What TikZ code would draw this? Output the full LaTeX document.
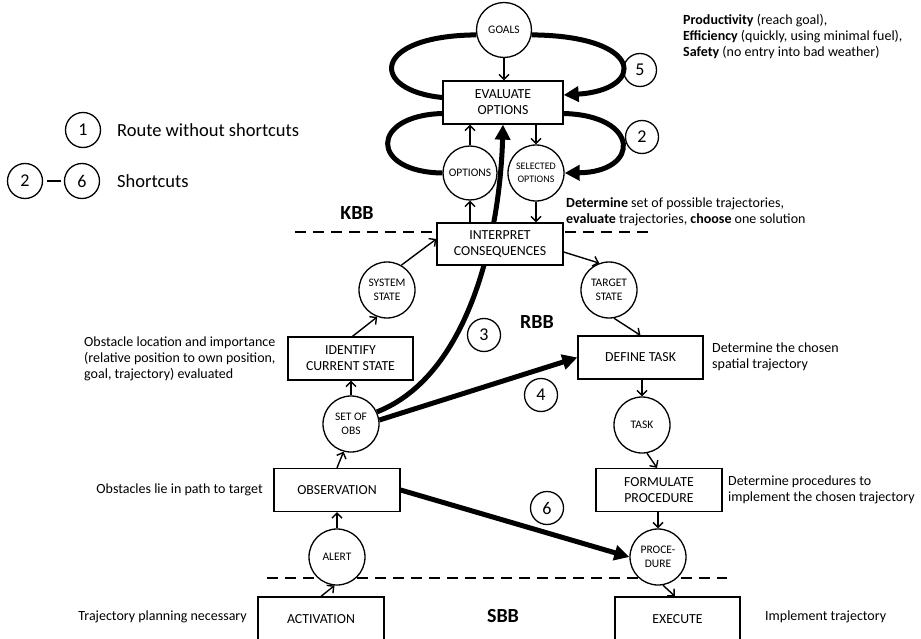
\documentclass[tikz,border=0pt]{standalone}
\usepackage{fontspec}
\setmainfont{Carlito}
\usetikzlibrary{arrows.meta,backgrounds}

\begin{document}
\begin{tikzpicture}[
  x=1pt, y=-1pt,
  b/.style={draw, line width=1.3pt, fill=white, align=center, minimum width=125pt, minimum height=43pt, inner sep=1pt, font=\fontsize{13.8}{16}\selectfont},
  s/.style={draw, circle, line width=1.3pt, fill=white, align=center, minimum size=56pt, inner sep=0pt, font=\fontsize{11.5}{14}\selectfont},
  nb/.style={draw, circle, line width=1.3pt, minimum size=33pt, inner sep=0pt, font=\fontsize{18}{18}\selectfont},
  txt/.style={align=left, inner sep=0pt, font=\fontsize{14}{16}\selectfont},
  lv/.style={inner sep=0pt, font=\fontsize{20}{20}\selectfont\bfseries},
  pf/.style={line width=1.4pt, -{Straight Barb[length=5pt,width=10pt]}},
  sc/.style={line width=5pt, -{Triangle[length=15pt,width=15pt]}},
  lp/.style={line width=5pt},
  sep/.style={line width=2.5pt, dash pattern=on 11pt off 7pt}
]
\useasboundingbox (0,0) rectangle (921,639);

% knowledge based level
\node[s, minimum size=55pt] (goals) at (504,30) {GOALS};
\node[b, minimum width=120pt] (evalopt) at (503,102.5) {EVALUATE\\OPTIONS};
\node[s, minimum size=54pt] (options) at (470,173) {OPTIONS};
\node[s, font=\fontsize{10}{12.5}\selectfont] (selopt) at (536,173) {SELECTED\\OPTIONS};
\node[b, minimum width=126pt, minimum height=42pt] (interp) at (500,244) {INTERPRET\\CONSEQUENCES};

% rule based level
\node[s] (sysstate) at (387,290) {SYSTEM\\STATE};
\node[s] (tgtstate) at (609,290) {TARGET\\STATE};
\node[b] (identify) at (350.5,358.5) {IDENTIFY\\CURRENT STATE};
\node[b] (deftask) at (640.5,357.5) {DEFINE TASK};
\node[s] (setobs) at (351,424) {SET OF\\OBS};
\node[s] (task) at (642,425) {TASK};
\node[b, minimum width=126pt] (observe) at (337,490) {OBSERVATION};
\node[b, minimum width=126pt] (formproc) at (659,490) {FORMULATE\\PROCEDURE};

% skill based level
\node[s] (alert) at (337,557) {ALERT};
\node[s] (proc) at (658,557) {PROCE-\\DURE};
\node[b, minimum width=126pt, minimum height=44pt] (activ) at (321,619) {ACTIVATION};
\node[b, minimum height=44pt] (execute) at (677.5,619) {EXECUTE};

% route numbers
\node[nb] (n5) at (640,70) {5};
\node[nb] (n2) at (642,137) {2};
\node[nb] (n3) at (484,335) {3};
\node[nb] (n4) at (541,395) {4};
\node[nb] (n6) at (547,508) {6};

% legend
\node[nb, minimum size=35pt] (l1) at (83,130) {1};
\node[nb, minimum size=35pt] (l2) at (25,181) {2};
\node[nb, minimum size=35pt] (l6) at (82,181) {6};
\node[txt, anchor=west, font=\fontsize{18.5}{20}\selectfont] (lroute) at (117,130) {Route without shortcuts};
\node[txt, anchor=west, font=\fontsize{18.5}{20}\selectfont] (lshort) at (117,181) {Shortcuts};
\draw[line width=2.5pt, shorten <=4pt, shorten >=3pt] (l2.east) -- (l6.west);

% levels
\node[lv] (kbb) at (357,213) {KBB};
\node[lv] (rbb) at (537,322) {RBB};
\node[lv] (sbb) at (503,616) {SBB};

% annotations
\node[txt, anchor=west] (goaltxt) at (683,37) {\textbf{Productivity} (reach goal),\\\textbf{Efficiency} (quickly, using minimal fuel),\\\textbf{Safety} (no entry into bad weather)};
\node[txt, anchor=west] (kbbtxt) at (566,212) {\textbf{Determine} set of possible trajectories,\\\textbf{evaluate} trajectories, \textbf{choose} one solution};
\node[txt, anchor=west] (idtxt) at (84,359) {Obstacle location and importance\\(relative position to own position,\\goal, trajectory) evaluated};
\node[txt, anchor=west] (dttxt) at (712,357) {Determine the chosen\\spatial trajectory};
\node[txt, anchor=east] (obstxt) at (263,490) {Obstacles lie in path to target};
\node[txt, anchor=west] (fptxt) at (728,490) {Determine procedures to\\implement the chosen trajectory};
\node[txt, anchor=east] (actxt) at (247,617) {Trajectory planning necessary};
\node[txt, anchor=west] (extxt) at (765,617) {Implement trajectory};

% route without shortcuts
\draw[pf] (goals.south) -- (goals.south |- evalopt.north);
\draw[pf] (options.north) -- (options.north |- evalopt.south);
\draw[pf] (selopt.north |- evalopt.south) -- (selopt.north);
\draw[pf] (options.south |- interp.north) -- (options.south);
\draw[pf] (selopt.south) -- (selopt.south |- interp.north);
\draw[pf] (sysstate.60) -- ([yshift=5pt]interp.west);
\draw[pf] ([yshift=-8pt]interp.east) -- (tgtstate.110);
\draw[pf] ([xshift=2pt]identify.north) -- (sysstate.250);
\draw[pf] (tgtstate.280) -- (deftask.north);
\draw[pf] (setobs.north) -- (setobs.north |- identify.south);
\draw[pf] (task.north |- deftask.south) -- (task.north);
\draw[pf] (observe.north) -- (setobs.255);
\draw[pf] (task.280) -- ([xshift=-2pt]formproc.north);
\draw[pf] (alert) -- (observe);
\draw[pf] (proc.north |- formproc.south) -- (proc.north);
\draw[pf] (activ.north) -- (alert.265);
\draw[pf] (proc.280) -- ([xshift=-2.5pt]execute.north);

% shortcuts
\draw[sc] (setobs.8) -- (deftask.west);
\draw[sc] (observe.east) -- (proc.west);
\draw[lp] ([yshift=5pt]evalopt.west) .. controls +(-73,-7) and +(-106,1) .. (goals.190);
\draw[sc] (goals.350) .. controls +(114,1) and +(82,-5) .. ([yshift=7.5pt]evalopt.east);
\draw[lp] ([yshift=-11pt]evalopt.west) .. controls +(-73,2) and +(-73,-1) .. (options.west);
\draw[sc] ([yshift=-11pt]evalopt.east) .. controls +(77,2) and +(76,-1) .. (selopt.east);

\begin{scope}[on background layer]
\draw[sep] (295,232) -- (652,232);
\draw[sep] (267,578) -- (727,578);
\draw[sc] (setobs.25) .. controls +(94,-37) and +(-3,106) .. (evalopt.south);
\end{scope}
\end{tikzpicture}
\end{document}
